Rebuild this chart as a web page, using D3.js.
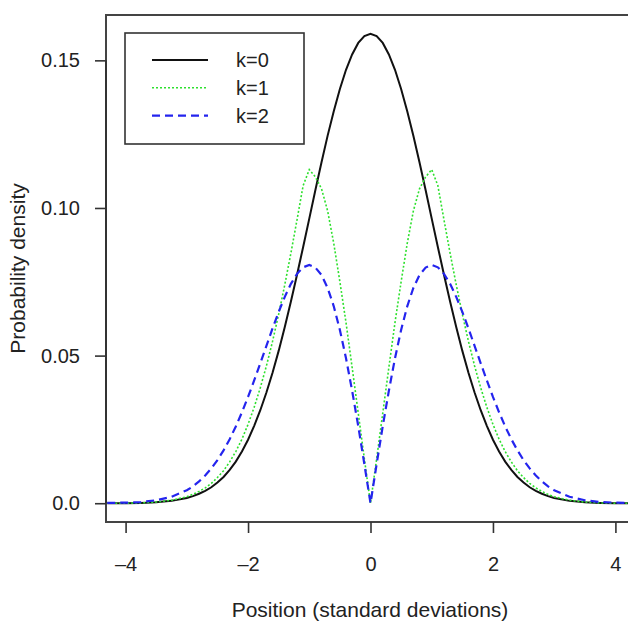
<!DOCTYPE html>
<html>
<head>
<meta charset="utf-8">
<script src="https://cdn.jsdelivr.net/npm/d3@7"></script>
<style>
  body { margin: 0; background: #fff; }
  text { font-family: "Liberation Sans", Arial, sans-serif; fill: #222; }
</style>
</head>
<body>
<div id="chart"></div>
<script>
// positions (standard deviations)
var xs = [-4.3,-4,-3.75,-3.5,-3.25,-3,-2.9,-2.8,-2.7,-2.6,-2.5,-2.4,-2.3,-2.2,-2.1,-2,-1.9,-1.8,-1.7,-1.6,-1.5,-1.4,-1.3,-1.2,-1.1,-1,-0.9,-0.8,-0.7,-0.6,-0.5,-0.4,-0.3,-0.2,-0.1,
          0,0.1,0.2,0.3,0.4,0.5,0.6,0.7,0.8,0.9,1,1.1,1.2,1.3,1.4,1.5,1.6,1.7,1.8,1.9,2,2.1,2.2,2.3,2.4,2.5,2.6,2.7,2.8,2.9,3,3.25,3.5,3.75,4,4.3];

// density values for each k
var k0 = [0,0,0.0001,0.0003,0.0008,0.0018,0.0024,0.0032,0.0042,0.0054,0.0070,0.0089,0.0113,0.0141,0.0175,0.0215,0.0262,0.0315,0.0375,0.0442,0.0516,0.0597,0.0683,0.0774,0.0868,0.0964,0.1061,0.1155,0.1245,0.1328,0.1403,0.1468,0.1520,0.1559,0.1582,
          0.1590,0.1582,0.1559,0.1520,0.1468,0.1403,0.1328,0.1245,0.1155,0.1061,0.0964,0.0868,0.0774,0.0683,0.0597,0.0516,0.0442,0.0375,0.0315,0.0262,0.0215,0.0175,0.0141,0.0113,0.0089,0.0070,0.0054,0.0042,0.0032,0.0024,0.0018,0.0008,0.0003,0.0001,0,0];
var k1 = [0,0,0.0001,0.0004,0.0010,0.0022,0.0030,0.0040,0.0052,0.0067,0.0087,0.0110,0.0140,0.0175,0.0217,0.0267,0.0325,0.0391,0.0465,0.0548,0.0640,0.0740,0.0847,0.0960,0.1076,0.1130,0.1105,0.1065,0.0990,0.0880,0.0750,0.0612,0.0460,0.0305,0.0150,
          0,0.0150,0.0305,0.0460,0.0612,0.0750,0.0880,0.0990,0.1065,0.1105,0.1130,0.1076,0.0960,0.0847,0.0740,0.0640,0.0548,0.0465,0.0391,0.0325,0.0267,0.0217,0.0175,0.0140,0.0110,0.0087,0.0067,0.0052,0.0040,0.0030,0.0022,0.0010,0.0004,0.0001,0,0];
var k2 = [0.0001,0.0002,0.0004,0.0010,0.0022,0.0044,0.0057,0.0074,0.0094,0.0118,0.0146,0.0179,0.0217,0.0260,0.0308,0.0360,0.0416,0.0474,0.0533,0.0592,0.0648,0.0699,0.0743,0.0777,0.0799,0.0807,0.0798,0.0773,0.0729,0.0667,0.0587,0.0491,0.0381,0.0261,0.0132,
          0,0.0132,0.0261,0.0381,0.0491,0.0587,0.0667,0.0729,0.0773,0.0798,0.0807,0.0799,0.0777,0.0743,0.0699,0.0648,0.0592,0.0533,0.0474,0.0416,0.0360,0.0308,0.0260,0.0217,0.0179,0.0146,0.0118,0.0094,0.0074,0.0057,0.0044,0.0022,0.0010,0.0004,0.0002,0.0001];

var xTicks = [-4, -2, 0, 2, 4];
var yTicks = [0, 0.05, 0.10, 0.15];
var yTickLabels = ["0.0", "0.05", "0.10", "0.15"];
var legendLabels = ["k=0", "k=1", "k=2"];

var series = [
  {name: legendLabels[0], values: k0, color: "#111", dash: null, width: 2},
  {name: legendLabels[1], values: k1, color: "#2ee02e", dash: "2,2", width: 1.6},
  {name: legendLabels[2], values: k2, color: "#2424ee", dash: "8,5", width: 2.2}
];

// plot region (right edge runs off the page, like the original)
var W = 628, H = 621;
var plotL = 106, plotT = 15, plotR = 635, plotB = 522;

var x = d3.scaleLinear()
    .domain([-4.32, 4.32])
    .range([plotL, plotR]);

var y = d3.scaleLinear()
    .domain([-0.00636, 0.16536])
    .range([plotB, plotT]);

var svg = d3.select("#chart")
  .append("svg")
    .attr("width", W)
    .attr("height", H);

// box
svg.append("rect")
    .attr("x", plotL)
    .attr("y", plotT)
    .attr("width", plotR - plotL)
    .attr("height", plotB - plotT)
    .attr("fill", "none")
    .attr("stroke", "#444")
    .attr("stroke-width", 2);

// curves
var line = d3.line()
    .x(function(d, i) { return x(xs[i]); })
    .y(function(d) { return y(d); });

svg.selectAll(".curve")
    .data(series)
    .enter().append("path")
    .attr("class", "curve")
    .attr("d", function(d) { return line(d.values); })
    .attr("fill", "none")
    .attr("stroke", function(d) { return d.color; })
    .attr("stroke-width", function(d) { return d.width; })
    .attr("stroke-dasharray", function(d) { return d.dash; });

// x axis
var xAxis = d3.axisBottom(x)
    .tickValues(xTicks)
    .tickSize(11)
    .tickPadding(24)
    .tickFormat(function(d) { return d < 0 ? "\u2013" + Math.abs(d) : d; });

var gx = svg.append("g")
    .attr("transform", "translate(0," + plotB + ")")
    .call(xAxis);
gx.select(".domain").remove();

// y axis
var yAxis = d3.axisLeft(y)
    .tickValues(yTicks)
    .tickSize(11)
    .tickPadding(15)
    .tickFormat(function(d, i) { return yTickLabels[i]; });

var gy = svg.append("g")
    .attr("transform", "translate(" + plotL + ",0)")
    .call(yAxis);
gy.select(".domain")
    .attr("d", "M0," + y(0) + "V" + y(0.15));

svg.selectAll(".tick line").attr("stroke", "#333").attr("stroke-width", 1.6);
svg.selectAll(".domain").attr("stroke", "#333").attr("stroke-width", 2);
svg.selectAll(".tick text")
    .attr("font-family", "Liberation Sans, Arial, sans-serif")
    .attr("font-size", 20)
    .attr("fill", "#222");

// axis titles
svg.append("text")
    .attr("x", 370)
    .attr("y", 617)
    .attr("text-anchor", "middle")
    .attr("font-size", 21)
    .text("Position (standard deviations)");

svg.append("text")
    .attr("transform", "translate(25," + ((plotT + plotB) / 2) + ") rotate(-90)")
    .attr("text-anchor", "middle")
    .attr("font-size", 21)
    .text("Probability density");

// legend
var legend = svg.append("g");
legend.append("rect")
    .attr("x", 125)
    .attr("y", 33)
    .attr("width", 179)
    .attr("height", 111)
    .attr("fill", "#fff")
    .attr("stroke", "#333")
    .attr("stroke-width", 1.6);

var items = legend.selectAll(".item")
    .data(series)
    .enter().append("g")
    .attr("class", "item")
    .attr("transform", function(d, i) { return "translate(0," + (60 + i * 27.8) + ")"; });

items.append("line")
    .attr("x1", 152)
    .attr("x2", 208)
    .attr("stroke", function(d) { return d.color; })
    .attr("stroke-width", function(d) { return d.width; })
    .attr("stroke-dasharray", function(d) { return d.dash; });

items.append("text")
    .attr("x", 236)
    .attr("dy", "0.35em")
    .attr("font-size", 20)
    .text(function(d) { return d.name; });
</script>
</body>
</html>
